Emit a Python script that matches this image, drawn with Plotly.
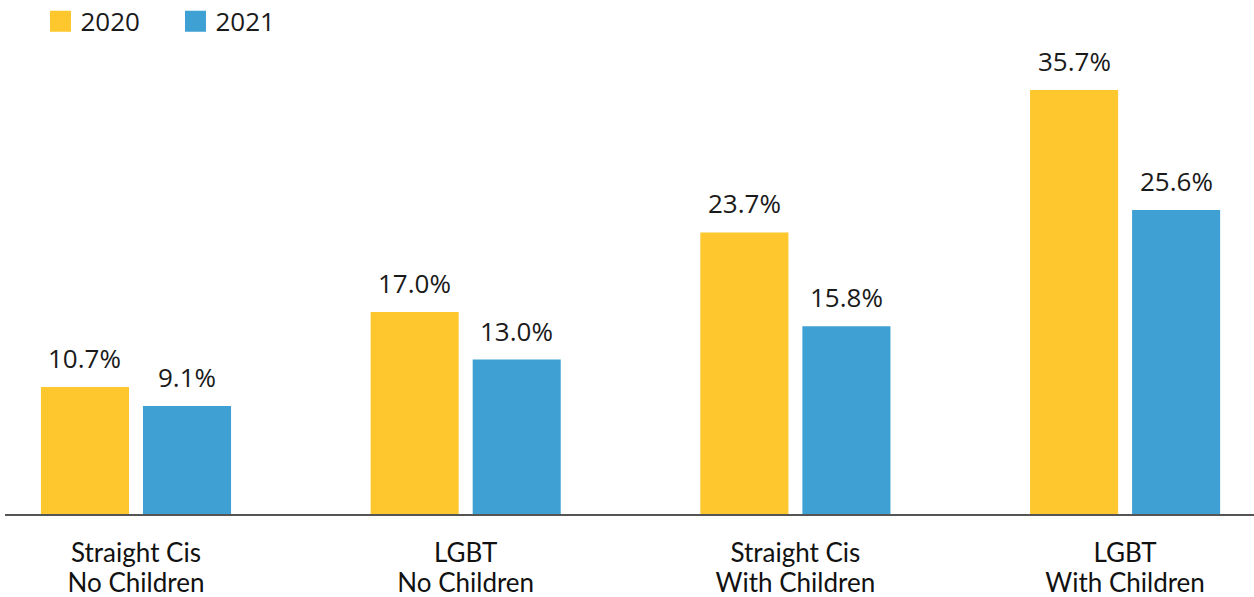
import plotly.graph_objects as go

cat_line1 = ["Straight Cis", "LGBT", "Straight Cis", "LGBT"]
cat_line2 = ["No Children", "No Children", "With Children", "With Children"]
years = ["2020", "2021"]
values_2020 = [10.7, 17.0, 23.7, 35.7]
values_2021 = [9.1, 13.0, 15.8, 25.6]
colors = {"2020": "#FDC72D", "2021": "#3FA1D3"}

xpos = list(range(len(cat_line1)))
BAR_OFFSET = 0.1547

fig = go.Figure()
for yr, vals in zip(years, [values_2020, values_2021]):
    fig.add_trace(go.Bar(x=xpos, y=vals, name=yr, marker_color=colors[yr],
                         marker_line_width=0, hoverinfo="skip",
                         showlegend=False, legendgroup=yr))
# legend entries (square swatches), placed on the overlay axis
for yr in years:
    fig.add_trace(go.Scatter(x=[None], y=[None], mode="markers", name=yr,
                             legendgroup=yr, xaxis="x2", yaxis="y",
                             marker=dict(symbol="square", size=18, color=colors[yr],
                                         line=dict(width=5, color=colors[yr]))))

annotations = []
for i, (a, b) in enumerate(zip(values_2020, values_2021)):
    for off, v in ((-BAR_OFFSET, a), (BAR_OFFSET, b)):
        annotations.append(dict(x=i + off, y=v, xref="x", yref="y",
                                text=f"{v:.1f}%", showarrow=False,
                                yanchor="middle", yshift=29,
                                font=dict(family="Open Sans", size=26, color="#1a1a1a")))

tickfont = dict(family="Lato", size=26, color="#111111")
xrange = [-0.3973, 3.391]

fig.update_layout(
    width=1254, height=597,
    margin=dict(l=5, r=0, t=0, b=83, autoexpand=False),
    paper_bgcolor="white", plot_bgcolor="white",
    barmode="group", bargap=0.381, bargroupgap=0.137,
    showlegend=True,
    legend=dict(orientation="h", x=0.0284, y=1.004, xanchor="left", yanchor="top",
                font=dict(family="Open Sans", size=26, color="#1a1a1a"),
                itemsizing="trace", entrywidth=90, entrywidthmode="pixels",
                bgcolor="rgba(0,0,0,0)", traceorder="normal"),
    annotations=annotations,
    xaxis=dict(range=xrange, tickvals=xpos, ticktext=cat_line1,
               showgrid=False, zeroline=False, showline=True, automargin=False,
               linecolor="#555555", linewidth=1.5, ticks="",
               ticklabelstandoff=15, tickfont=tickfont),
    xaxis2=dict(range=xrange, overlaying="x", matches="x", anchor="y", side="bottom",
                tickvals=xpos, ticktext=cat_line2,
                showgrid=False, zeroline=False, showline=False, automargin=False,
                ticks="", ticklabelstandoff=51, tickfont=tickfont),
    yaxis=dict(range=[0, 43.27], visible=False, showgrid=False, zeroline=False,
               automargin=False),
)

fig.write_html("out.html", config={"displayModeBar": False},
               post_script="document.body.style.margin='0';")
